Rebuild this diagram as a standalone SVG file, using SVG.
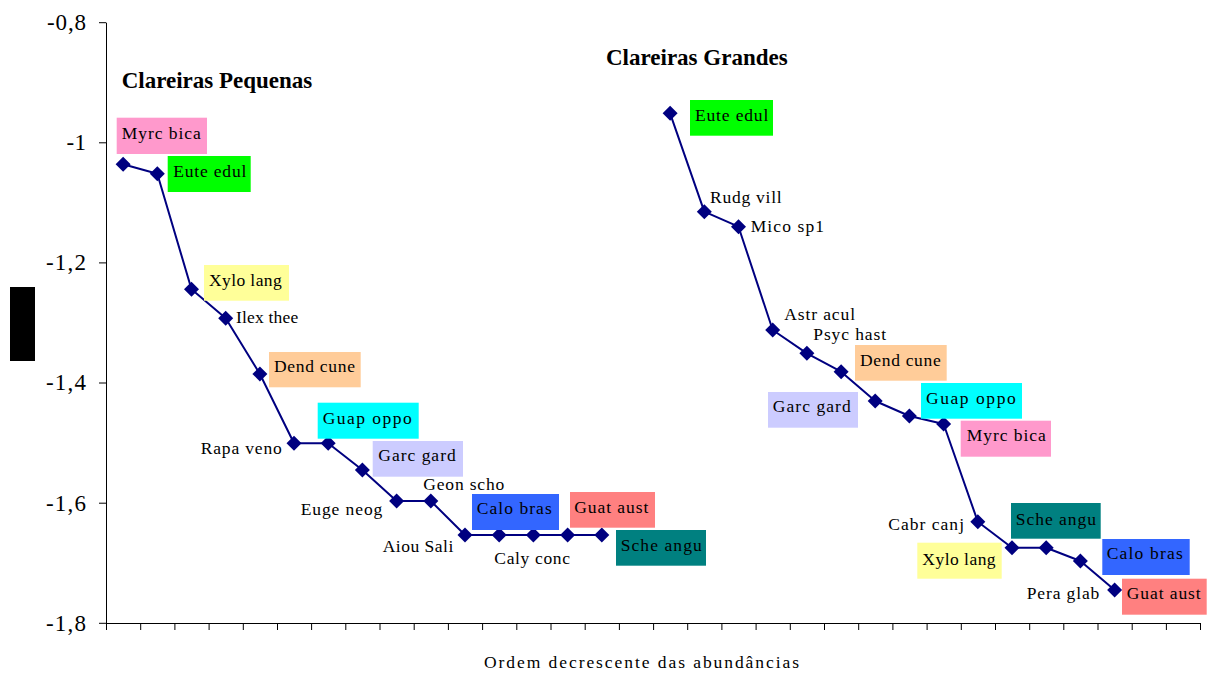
<svg xmlns="http://www.w3.org/2000/svg" width="1209" height="673" viewBox="0 0 1209 673">
<style>
text{font-family:"Liberation Serif","Times New Roman",serif;fill:#000}
.lb{font-size:17.5px}
.ax{font-size:23px}
.tt{font-size:23px;font-weight:bold}
.ser{fill:none;stroke:#000080;stroke-width:2;stroke-linejoin:round;marker-start:url(#dm);marker-mid:url(#dm);marker-end:url(#dm)}
.axis{stroke:#000;stroke-width:1;fill:none}
</style>
<defs>
<marker id="dm" markerUnits="userSpaceOnUse" markerWidth="16" markerHeight="16" refX="8" refY="8" orient="0" viewBox="0 0 16 16">
<path d="M8 0.5 L15.5 8 L8 15.5 L0.5 8 Z" fill="#000080"/>
</marker>
</defs>
<rect width="1209" height="673" fill="#fff"/>
<rect x="10" y="287" width="25" height="74" fill="#000"/>
<g id="axes">
<path class="axis" d="M106.5 22.7 V623.5 H1200.5" stroke="#333"/>
<path class="axis" d="M99 22.7H106M99 142.8H106M99 262.9H106M99 383H106M99 503.2H106M99 623.3H106"/>
<path class="axis" d="M106.5 623V630M140.7 623V630M174.9 623V630M209.1 623V630M243.3 623V630M277.5 623V630M311.6 623V630M345.8 623V630M380 623V630M414.2 623V630M448.4 623V630M482.6 623V630M516.8 623V630M551 623V630M585.2 623V630M619.4 623V630M653.6 623V630M687.7 623V630M721.9 623V630M756.1 623V630M790.3 623V630M824.5 623V630M858.7 623V630M892.9 623V630M927.1 623V630M961.3 623V630M995.5 623V630M1029.7 623V630M1063.8 623V630M1098 623V630M1132.2 623V630M1166.4 623V630M1200.5 623V630"/>
<g class="ax" text-anchor="end">
<text x="86" y="30" textLength="39" lengthAdjust="spacing">-0,8</text>
<text x="86" y="150" textLength="19.5" lengthAdjust="spacing">-1</text>
<text x="86" y="270" textLength="40" lengthAdjust="spacing">-1,2</text>
<text x="86" y="390" textLength="40" lengthAdjust="spacing">-1,4</text>
<text x="86" y="510.5" textLength="40" lengthAdjust="spacing">-1,6</text>
<text x="86" y="630.5" textLength="40" lengthAdjust="spacing">-1,8</text>
</g>
<text class="lb" x="484" y="668" textLength="315" lengthAdjust="spacing">Ordem decrescente das abundâncias</text>
</g>
<g id="titles">
<text class="tt" x="121.7" y="88.3">Clareiras Pequenas</text>
<text class="tt" x="606" y="65">Clareiras Grandes</text>
</g>
<g id="connectors">
<polyline class="ser" points="123.1,164.3 157.3,173.7 191.5,289.3 225.7,318.3 259.9,374 294,443.3 328.2,443.3 362.4,470 396.6,501 430.8,501 465,535 499.2,535 533.4,535 567.6,535 601.8,535"/>
<polyline class="ser" points="670.1,113.3 704.3,211.7 738.5,226.7 772.7,330 806.9,353.3 841.1,371.7 875.2,401 909.4,416 943.6,424 977.8,521.7 1012,547.7 1046.2,547.7 1080.4,561 1114.6,590"/>
</g>
<g id="small-labels" class="lb">
<g id="s-myrc"><rect x="116.7" y="117.7" width="90.3" height="36.3" fill="#FF99CC"/><text x="121.7" y="139" textLength="79" lengthAdjust="spacing">Myrc bica</text></g>
<g id="s-eute"><rect x="167.7" y="156" width="83" height="36" fill="#00FF00"/><text x="173.3" y="176.7" textLength="73" lengthAdjust="spacing">Eute edul</text></g>
<g id="s-xylo"><rect x="204" y="265" width="85" height="35.7" fill="#FFFF99"/><text x="209" y="286" textLength="72.7" lengthAdjust="spacing">Xylo lang</text></g>
<g id="s-ilex"><text x="236" y="323.3" textLength="62.3" lengthAdjust="spacing">Ilex thee</text></g>
<g id="s-dend"><rect x="269" y="352" width="91.7" height="35.3" fill="#FFCC99"/><text x="274" y="371.7" textLength="81" lengthAdjust="spacing">Dend cune</text></g>
<g id="s-rapa"><text x="200.7" y="454.3" textLength="81" lengthAdjust="spacing">Rapa veno</text></g>
<g id="s-guap"><rect x="317.7" y="402.7" width="101" height="36" fill="#00FFFF"/><text x="322.7" y="424.3" textLength="89" lengthAdjust="spacing">Guap oppo</text></g>
<g id="s-garc"><rect x="372.7" y="441" width="90.3" height="35.7" fill="#CCCCFF"/><text x="378.3" y="461" textLength="77.4" lengthAdjust="spacing">Garc gard</text></g>
<g id="s-geon"><text x="423.3" y="490" textLength="81" lengthAdjust="spacing">Geon scho</text></g>
<g id="s-euge"><text x="300.7" y="515" textLength="81.6" lengthAdjust="spacing">Euge neog</text></g>
<g id="s-aiou"><text x="382.7" y="552.3" textLength="70.6" lengthAdjust="spacing">Aiou Sali</text></g>
<g id="s-calo"><rect x="472" y="494" width="87" height="36" fill="#3366FF"/><text x="476.7" y="514.3" textLength="75" lengthAdjust="spacing">Calo bras</text></g>
<g id="s-caly"><text x="494.3" y="564" textLength="75.7" lengthAdjust="spacing">Caly conc</text></g>
<g id="s-guat"><rect x="570" y="492" width="85" height="35.7" fill="#FF8080"/><text x="574.3" y="513.3" textLength="74" lengthAdjust="spacing">Guat aust</text></g>
<g id="s-sche"><rect x="616" y="530" width="90" height="35.7" fill="#008080"/><text x="620.7" y="550.7" textLength="81" lengthAdjust="spacing">Sche angu</text></g>
</g>
<g id="large-labels" class="lb">
<g id="l-eute"><rect x="690" y="100" width="83" height="35.7" fill="#00FF00"/><text x="695" y="120.7" textLength="73.3" lengthAdjust="spacing">Eute edul</text></g>
<g id="l-rudg"><text x="710" y="202.7" textLength="71.7" lengthAdjust="spacing">Rudg vill</text></g>
<g id="l-mico"><text x="750.7" y="231.7" textLength="73.3" lengthAdjust="spacing">Mico sp1</text></g>
<g id="l-astr"><text x="784.3" y="320" textLength="70.7" lengthAdjust="spacing">Astr acul</text></g>
<g id="l-psyc"><text x="813.3" y="340" textLength="72.7" lengthAdjust="spacing">Psyc hast</text></g>
<g id="l-dend"><rect x="855" y="345" width="91.7" height="35.7" fill="#FFCC99"/><text x="860" y="365.7" textLength="80.7" lengthAdjust="spacing">Dend cune</text></g>
<g id="l-garc"><rect x="768" y="392" width="90" height="35.7" fill="#CCCCFF"/><text x="772.7" y="411.7" textLength="78" lengthAdjust="spacing">Garc gard</text></g>
<g id="l-guap"><rect x="921" y="383" width="101" height="35.7" fill="#00FFFF"/><text x="926" y="404" textLength="89.7" lengthAdjust="spacing">Guap oppo</text></g>
<g id="l-myrc"><rect x="960.7" y="420.7" width="90.3" height="36" fill="#FF99CC"/><text x="966.7" y="441" textLength="79" lengthAdjust="spacing">Myrc bica</text></g>
<g id="l-cabr"><text x="888.3" y="530" textLength="75.7" lengthAdjust="spacing">Cabr canj</text></g>
<g id="l-xylo"><rect x="917.3" y="542.7" width="84.4" height="36" fill="#FFFF99"/><text x="922.3" y="565" textLength="73.3" lengthAdjust="spacing">Xylo lang</text></g>
<g id="l-sche"><rect x="1011" y="503" width="89.7" height="35.7" fill="#008080"/><text x="1015.7" y="525" textLength="80.3" lengthAdjust="spacing">Sche angu</text></g>
<g id="l-calo"><rect x="1102.3" y="539" width="87.4" height="36" fill="#3366FF"/><text x="1106.7" y="559" textLength="76" lengthAdjust="spacing">Calo bras</text></g>
<g id="l-pera"><text x="1026.7" y="599" textLength="72.6" lengthAdjust="spacing">Pera glab</text></g>
<g id="l-guat"><rect x="1122" y="578.7" width="84.7" height="36" fill="#FF8080"/><text x="1126.7" y="599" textLength="74" lengthAdjust="spacing">Guat aust</text></g>
</g>
</svg>
